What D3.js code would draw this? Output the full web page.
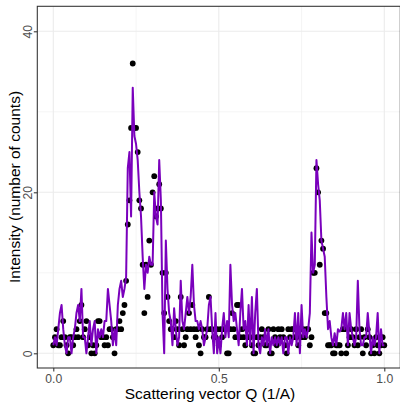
<!DOCTYPE html>
<html><head><meta charset="utf-8">
<script src="https://cdn.jsdelivr.net/npm/d3@7"></script>
<style>body{margin:0;background:#fff} text{font-family:"Liberation Sans",Arial,Helvetica,sans-serif}</style>
</head><body><svg id="c" width="400" height="403"></svg>
<script>
// Observed counts (black points), Q sampled on a grid of 201 values in [0,1]
const observedCounts = [
 1,2,3,1,1,2,4,2,1,0, 2,2,1,2,3,2,4,6,2,3,
 4,1,2,0,1,0,1,4,4,2, 2,1,2,1,3,3,2,0,3,3,
 4,3,5,6,9,16,19,28,36,28, 28,25,19,18,11,5,11,7,14,11,
 20,22,17,18,21,18,10,5,10,7, 4,3,3,2,4,3,1,7,3,1,
 2,3,5,3,6,3,2,3,1,0, 3,2,2,3,7,3,3,2,2,3,
 1,3,2,3,3,0,0,3,5,3, 2,6,6,2,3,2,1,3,2,2,
 1,0,0,2,1,2,3,2,1,1, 3,0,0,3,2,1,3,2,3,2,
 1,0,3,2,3,3,2,2,1,3, 2,3,2,3,3,1,2,10,10,23,
 20,11,14,13,5,5,1,1,1,0, 0,1,1,1,0,3,3,0,1,2,
 3,2,1,3,1,2,3,0,2,1, 3,2,0,1,0,2,1,0,1,2,
 1
];
// Simulated intensity (purple line), same Q grid
const simulatedCounts = [
 1,2,1,3,5,6,3,1,0,2, 2,0,2,3,5,6,4,8,2,2,
 0,2,4,1,3,4,0,3,2,3, 2,4,4,8,6,4,1,3,1,6,
 8,9,7,8,9.5,23,25,17,33,27, 26,24,20,17,12,8,11,10,12,11,
 11,20,17,16,24,19,5,0,14,8, 5,4,1,5.6,3,1,2,9,4,3,
 5,7,5,7,11,6,4,4,3,4, 3,1,2,3,6,7,3,0,5,0,
 2,0,3,5,2,4,2,11,6,4, 5,3,1,5,8,3,4,1,6,1,
 7,0,5,8,1,0,2,1,3,1, 3,0,2,1,2,1,2,1,2,0,
 2,2,0,2,1,2,5,1,5,0, 6,2,3,2,3,5,15,10,11,24,
 21,19,14,13,12,7,3,4,2,1, 2.5,1,3,2.7,3,5,3,5,1,5,
 3,2,1,2,9,3,1,1,2,2, 5,2.5,0,2,1,2,5,0,3,1,
 1
];
const qGrid = d3.range(observedCounts.length).map(i => i / (observedCounts.length - 1));
const xTicks = [0, 0.5, 1.0];
const xTickLabels = ["0.0", "0.5", "1.0"];
const xMinorTicks = [0.25, 0.75];
const yTicks = [0, 20, 40];
const yMinorTicks = [10, 30];
const xTitle = "Scattering vector Q (1/A)";
const yTitle = "Intensity (number of counts)";

const svg = d3.select("#c");
const panel = {left: 37.3, right: 400.3, top: 6.3, bottom: 368};
const x = d3.scaleLinear().domain([0, 1]).range([53.3, 384.3]);
const y = d3.scaleLinear().domain([0, 40]).range([353.3, 31.3]);

svg.append("rect").attr("width", 400).attr("height", 403).attr("fill", "#fff");

const grid = svg.append("g");
grid.selectAll(".xm").data(xMinorTicks).join("line")
  .attr("x1", d => x(d)).attr("x2", d => x(d)).attr("y1", panel.top).attr("y2", panel.bottom)
  .attr("stroke", "#ebebeb").attr("stroke-width", 0.55);
grid.selectAll(".ym").data(yMinorTicks).join("line")
  .attr("y1", d => y(d)).attr("y2", d => y(d)).attr("x1", panel.left).attr("x2", panel.right)
  .attr("stroke", "#ebebeb").attr("stroke-width", 0.55);
grid.selectAll(".xM").data(xTicks).join("line")
  .attr("x1", d => x(d)).attr("x2", d => x(d)).attr("y1", panel.top).attr("y2", panel.bottom)
  .attr("stroke", "#ebebeb").attr("stroke-width", 1.1);
grid.selectAll(".yM").data(yTicks).join("line")
  .attr("y1", d => y(d)).attr("y2", d => y(d)).attr("x1", panel.left).attr("x2", panel.right)
  .attr("stroke", "#ebebeb").attr("stroke-width", 1.1);

// points
svg.append("g").selectAll("circle").data(observedCounts).join("circle")
  .attr("cx", (d, i) => x(qGrid[i])).attr("cy", d => y(d)).attr("r", 2.9).attr("fill", "#000");

// line
const line = d3.line().x((d, i) => x(qGrid[i])).y(d => y(d));
svg.append("path").datum(simulatedCounts).attr("d", line)
  .attr("fill", "none").attr("stroke", "#7a00bc").attr("stroke-width", 2).attr("stroke-linejoin", "round");

// border
svg.append("rect").attr("x", panel.left).attr("y", panel.top)
  .attr("width", panel.right - panel.left).attr("height", panel.bottom - panel.top)
  .attr("fill", "none").attr("stroke", "#333").attr("stroke-width", 1.07);

// axes
const xAxis = svg.append("g").attr("transform", `translate(0,${panel.bottom})`)
  .call(d3.axisBottom(x).tickValues(xTicks).tickSize(3.5).tickFormat((d, i) => xTickLabels[i]));
xAxis.select(".domain").remove();
xAxis.selectAll("line").attr("stroke", "#333").attr("stroke-width", 1.07);
xAxis.selectAll("text").attr("fill", "#4d4d4d").attr("font-size", 12.2).attr("dy", null).attr("y", 14.8)
  .attr("font-family", "Liberation Sans, Arial, sans-serif");

const yAxis = svg.append("g").attr("transform", `translate(${panel.left},0)`)
  .call(d3.axisLeft(y).tickValues(yTicks).tickSize(3.5));
yAxis.select(".domain").remove();
yAxis.selectAll("line").attr("stroke", "#333").attr("stroke-width", 1.07);
yAxis.selectAll("text").attr("fill", "#4d4d4d").attr("font-size", 12.2)
  .attr("font-family", "Liberation Sans, Arial, sans-serif")
  .attr("x", null).attr("dy", null).attr("text-anchor", "middle")
  .attr("transform", "translate(-5.8,0) rotate(-90)");

svg.append("text").attr("x", 210).attr("y", 399.4).attr("text-anchor", "middle")
  .attr("font-size", 15.5).attr("fill", "#000").text(xTitle);
svg.append("text").attr("transform", `translate(19.5,187) rotate(-90)`).attr("text-anchor", "middle")
  .attr("font-size", 15.5).attr("fill", "#000").text(yTitle);
</script></body></html>
